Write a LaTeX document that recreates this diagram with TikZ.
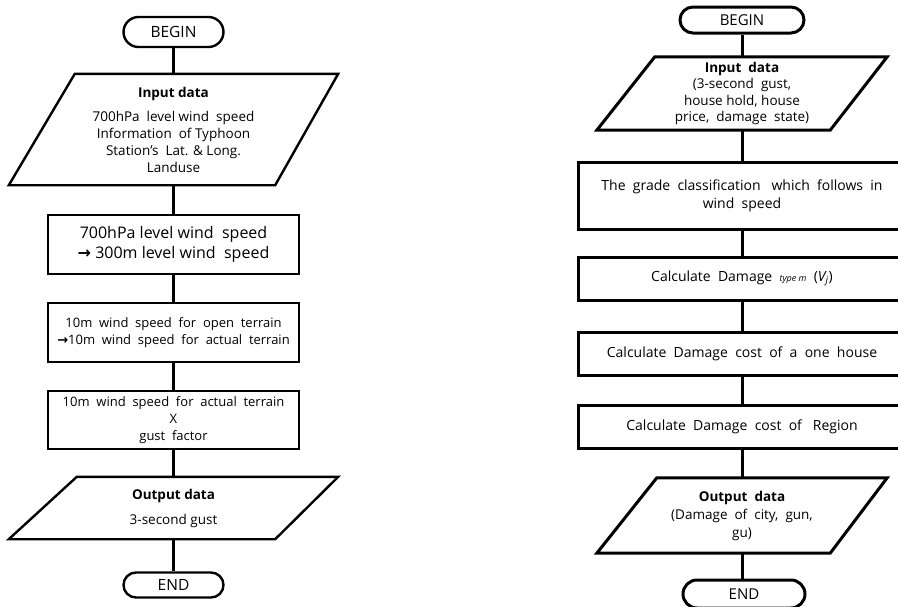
\documentclass[tikz,border=0pt]{standalone}
\usepackage{fontspec}
\setmainfont{Open Sans}
\newfontfamily\arrowfont{DejaVu Sans}
\usetikzlibrary{positioning}
\tikzset{
  lw/.style={line width=2.4pt},
  rw/.style={line width=3pt},
  term/.style={draw, rounded corners=12.5pt, inner sep=0pt},
  procbox/.style={draw, rectangle, inner sep=0pt, align=center},
  iobox/.style={rectangle, inner sep=0pt, align=center},
}
\begin{document}
\begin{tikzpicture}[x=1pt,y=-1pt]
\useasboundingbox (0,0) rectangle (898,606);
\clip (0,0) rectangle (898,606);
\fill[white] (0,0) rectangle (898,606);

% ---------- left flowchart ----------
\node[term, lw, minimum width=100pt, minimum height=30pt, rounded corners=15pt, font=\fontsize{15.5}{18}\selectfont] (beginL) at (173.5,32) {BEGIN};
\node[iobox, minimum width=329pt, minimum height=111pt, font=\fontsize{13.5}{17}\selectfont] (inL) at (173.5,129.5)
  {\textbf{Input data}\\[7pt]700hPa\ \ level wind\ \ speed\\Information\ \ of Typhoon\\Station's\ \ Lat. \& Long.\\Landuse};
\draw[lw] ([xshift=66pt]inL.north west) -- (inL.north east) -- ([xshift=-63pt]inL.south east) -- (inL.south west) -- cycle;
\node[procbox, lw, minimum width=251pt, minimum height=59pt, font=\fontsize{16}{20}\selectfont] (b1L) at (173.5,244.5)
  {700hPa level wind\ \ speed\\{\arrowfont\bfseries →} 300m level wind\ \ speed};
\node[procbox, lw, minimum width=251pt, minimum height=59pt, font=\fontsize{13}{16.5}\selectfont] (b2L) at (173.5,332.5)
  {10m\ \ wind\ \ speed\ \ for\ \ open\ \ terrain\\{\arrowfont\bfseries →}10m\ \ wind\ \ speed\ \ for\ \ actual\ \ terrain};
\node[procbox, lw, minimum width=251pt, minimum height=58pt, font=\fontsize{13}{17}\selectfont] (b3L) at (173.5,420)
  {10m\ \ wind\ \ speed\ \ for\ \ actual\ \ terrain\\X\\gust\ \ factor};
\node[iobox, minimum width=329pt, minimum height=62pt, font=\fontsize{13.5}{17}\selectfont] (outL) at (173.5,508)
  {\textbf{Output data}\\[8pt]3-second gust};
\draw[lw] ([xshift=68pt]outL.north west) -- (outL.north east) -- ([xshift=-63pt]outL.south east) -- (outL.south west) -- cycle;
\node[term, lw, minimum width=100pt, minimum height=25pt, font=\fontsize{15.5}{18}\selectfont] (endL) at (173.5,585) {END};

\draw[lw] (beginL.south) -- (inL.north);
\draw[lw] (inL.south) -- (b1L.north);
\draw[lw] (b1L.south) -- (b2L.north);
\draw[lw] (b2L.south) -- (b3L.north);
\draw[lw] (b3L.south) -- (outL.north);
\draw[lw] (outL.south) -- (endL.north);

% ---------- right flowchart ----------
\node[term, rw, minimum width=124pt, minimum height=26pt, rounded corners=13pt, font=\fontsize{15}{18}\selectfont] (beginR) at (742,20) {BEGIN};
\node[iobox, minimum width=290pt, minimum height=73pt, font=\fontsize{13.5}{16.5}\selectfont] (inR) at (742,93.5)
  {\textbf{Input\ \ data}\\(3-second\ \ gust,\\house hold, house\\price,\ \ damage\ \ state)};
\draw[rw] ([xshift=58pt]inR.north west) -- (inR.north east) -- ([xshift=-57pt]inR.south east) -- (inR.south west) -- cycle;
\node[procbox, rw, minimum width=328pt, minimum height=67pt, font=\fontsize{14}{18}\selectfont] (gR) at (742,195.5)
  {The\ \ grade\ \ classification\ \ \ which\ \ follows\ \ in\\wind\ \ speed};
\node[procbox, rw, minimum width=328pt, minimum height=43pt, font=\fontsize{14}{18}\selectfont] (dR) at (742,278.5)
  {Calculate\ \ Damage\ \ {\fontsize{9}{10}\selectfont\itshape type m}\ \ (\textit{V\textsubscript{j}})};
\node[procbox, rw, minimum width=328pt, minimum height=43pt, font=\fontsize{14}{18}\selectfont] (hR) at (742,353.5)
  {Calculate\ \ Damage\ \ cost\ \ of\ \ a\ \ one\ \ house};
\node[procbox, rw, minimum width=328pt, minimum height=43pt, font=\fontsize{14}{18}\selectfont] (rR) at (742,426.5)
  {Calculate\ \ Damage\ \ cost\ \ of\ \ \ Region};
\node[iobox, minimum width=290pt, minimum height=75pt, font=\fontsize{13.5}{18}\selectfont] (outR) at (742,515.5)
  {\textbf{Output\ \ data}\\(Damage\ \ of\ \ city,\ \ gun,\\gu)};
\draw[rw] ([xshift=60pt]outR.north west) -- (outR.north east) -- ([xshift=-57pt]outR.south east) -- (outR.south west) -- cycle;
\node[term, rw, minimum width=122pt, minimum height=28pt, rounded corners=14pt, font=\fontsize{15}{18}\selectfont] (endR) at (744,594) {END};

\draw[rw] (beginR.south) -- (inR.north);
\draw[rw] (inR.south) -- (gR.north);
\draw[rw] (gR.south) -- (dR.north);
\draw[rw] (dR.south) -- (hR.north);
\draw[rw] (hR.south) -- (rR.north);
\draw[rw] (rR.south) -- (outR.north);
\draw[rw] (outR.south) -- ([xshift=-2pt]endR.north);
\end{tikzpicture}
\end{document}
